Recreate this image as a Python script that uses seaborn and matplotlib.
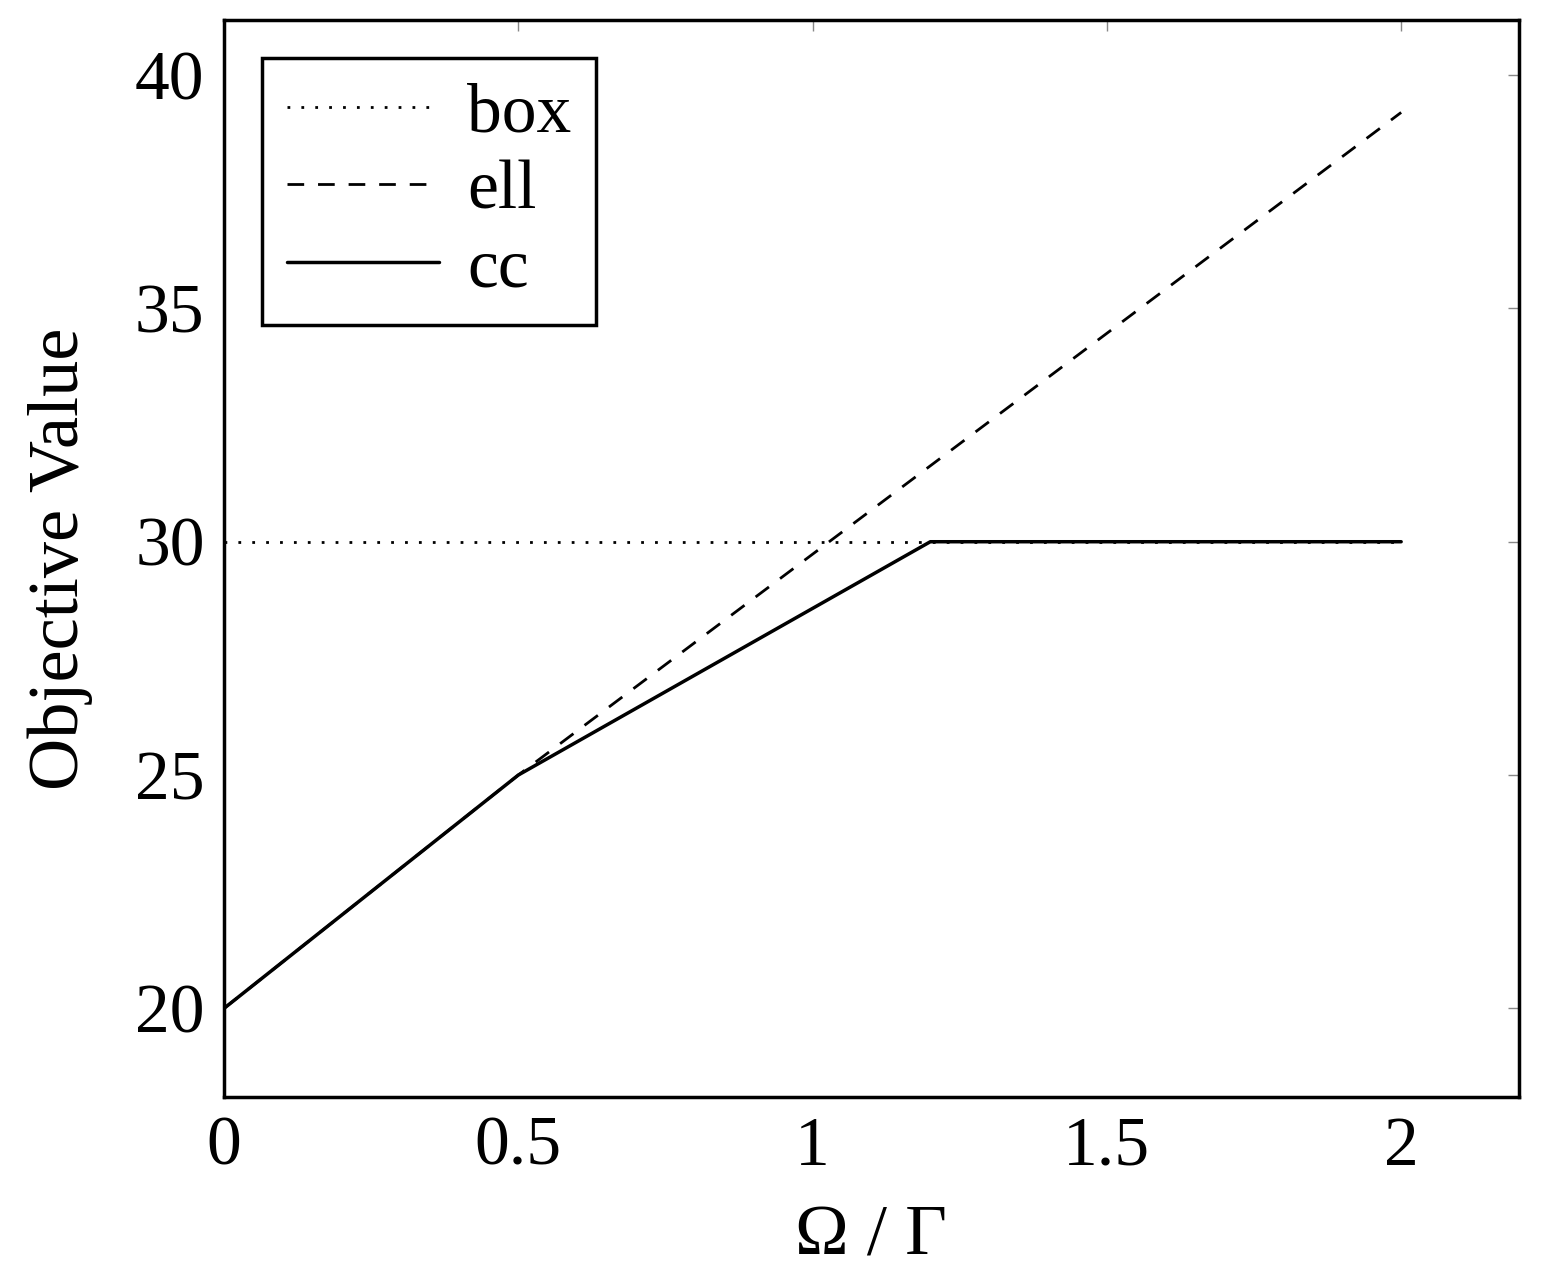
import matplotlib
matplotlib.use("Agg")
import matplotlib.pyplot as plt
import seaborn as sns

x_box = [0, 2]
y_box = [30, 30]
x_ell = [0, 0.5, 2]
y_ell = [20, 25, 39.2]
x_cc = [0, 0.5, 1.2, 2]
y_cc = [20, 25, 30, 30]

sns.set_style("white")
plt.rcParams['font.family'] = ['Liberation Serif', 'DejaVu Serif']
plt.rcParams['text.color'] = 'black'
plt.rcParams['axes.labelcolor'] = 'black'

fig = plt.figure(figsize=(15.42, 12.85), dpi=100)
ax = fig.add_axes([0.1453, 0.1463, 0.8397, 0.8381])

sns.lineplot(x=x_box, y=y_box, ax=ax, color='black', lw=2, linestyle=(0, (1, 4)), label='box')
sns.lineplot(x=x_ell, y=y_ell, ax=ax, color='black', lw=2, linestyle=(0, (6, 5)), label='ell')
sns.lineplot(x=x_cc, y=y_cc, ax=ax, color='black', lw=2.5, label='cc')

ax.set_xlim(0, 2.2)
ax.set_ylim(18.1, 41.18)
ax.set_xticks([0, 0.5, 1, 1.5, 2])
ax.set_xticklabels(['0', '0.5', '1', '1.5', '2'])
ax.set_yticks([20, 25, 30, 35, 40])
ax.tick_params(direction='in', length=8, width=1, color='#888888', labelsize=50,
               top=True, right=True, pad=14, labelcolor='black')
for s in ax.spines.values():
    s.set_linewidth(2.5)
    s.set_color('black')
ax.set_xlabel('Ω / Γ', fontsize=52, labelpad=18)
ax.set_ylabel('Objective Value', fontsize=52, labelpad=30)

leg = ax.legend(loc='upper left', fontsize=50, frameon=True, fancybox=False,
                handlelength=2.2, borderaxespad=0.55, labelspacing=0.2,
                handletextpad=0.4, borderpad=0.35)
leg.get_frame().set_edgecolor('black')
leg.get_frame().set_linewidth(2.5)
leg.get_frame().set_alpha(1)

fig.savefig('out.png', dpi=100)
